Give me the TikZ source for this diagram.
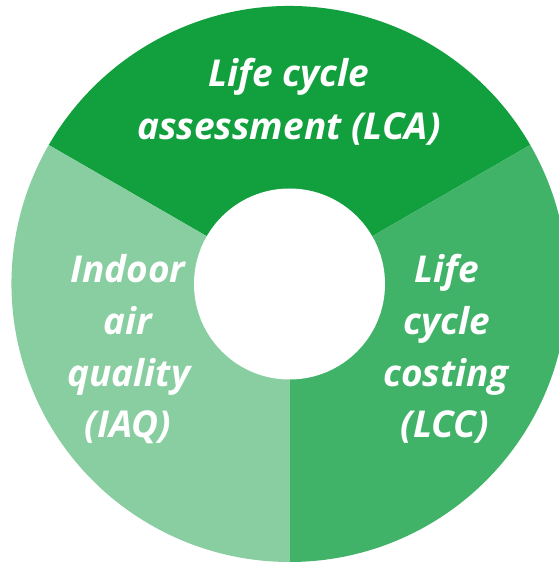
\documentclass[tikz,border=0pt]{standalone}
\usepackage{fontspec}
\setmainfont{Open Sans}
\begin{document}
\begin{tikzpicture}[x=1pt,y=1pt,
  seglabel/.style={text=white,anchor=base,inner sep=0pt,
    font=\fontsize{37}{44}\selectfont\bfseries\itshape}]
\useasboundingbox (0,0) rectangle (559,563);
\clip (0,0) rectangle (559,563);
\definecolor{segtop}{HTML}{12A03F}
\definecolor{segright}{HTML}{41B368}
\definecolor{segleft}{HTML}{89CEA0}
\coordinate (c) at (289.5,279);
\fill[segtop] (c) -- ++(30:278) arc[start angle=30,end angle=150,radius=278] -- cycle;
\fill[segleft] (c) -- ++(150:278) arc[start angle=150,end angle=270,radius=278] -- cycle;
\fill[segright] (c) -- ++(270:278) arc[start angle=270,end angle=390,radius=278] -- cycle;
\fill[white] (c) circle[radius=95.5];
% top
\node[seglabel] (t1) at (289,476.5) {Life cycle};
\node[seglabel] (t2) at (289,423.5) {assessment (LCA)};
% left
\node[seglabel] (l1) at (128,280) {Indoor};
\node[seglabel] (l2) at (128,228) {air};
\node[seglabel] (l3) at (129,176) {quality};
\node[seglabel] (l4) at (128,125) {(IAQ)};
% right
\node[seglabel] (r1) at (447,280) {Life};
\node[seglabel] (r2) at (447,228) {cycle};
\node[seglabel] (r3) at (446,176) {costing};
\node[seglabel] (r4) at (445,125) {(LCC)};
\end{tikzpicture}
\end{document}
